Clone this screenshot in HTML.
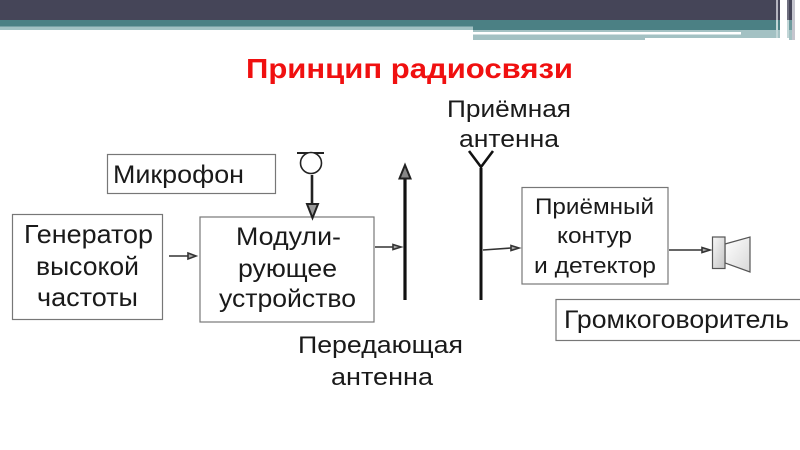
<!DOCTYPE html>
<html><head><meta charset="utf-8"><style>
html,body{margin:0;padding:0;background:#fff;width:800px;height:450px;overflow:hidden}
text{font-family:"Liberation Sans",sans-serif;fill:#1a1a1a;font-size:25px;text-anchor:start}
.d{filter:blur(0.35px)}
</style></head><body>
<svg width="800" height="450" viewBox="0 0 800 450" xmlns="http://www.w3.org/2000/svg">
<defs>
<linearGradient id="g" x1="0" y1="0" x2="1" y2="1"><stop offset="0" stop-color="#f8f8f8"/><stop offset="1" stop-color="#c4c4c4"/></linearGradient>
<linearGradient id="h" x1="0" y1="0" x2="1" y2="1"><stop offset="0" stop-color="#ffffff"/><stop offset="1" stop-color="#d8d8d8"/></linearGradient>
</defs>
<!-- header -->
<rect x="0" y="0" width="776" height="20" fill="#454558"/>
<rect x="0" y="20" width="473" height="6.500" fill="#4b8084"/>
<rect x="0" y="26.500" width="473" height="3.500" fill="#a3c1c3"/>
<rect x="473" y="20" width="303" height="10" fill="#4b8084"/>
<rect x="473" y="30" width="303" height="2" fill="#a3c1c3"/>
<rect x="473" y="32" width="268" height="2.500" fill="#fff"/>
<rect x="741" y="32" width="35" height="6" fill="#a3c1c3"/>
<rect x="473" y="34.500" width="268" height="3.500" fill="#a3c1c3"/>
<rect x="473" y="38" width="172" height="2" fill="#a3c1c3"/>
<!-- right stripes -->
<rect x="776" y="0" width="2" height="38" fill="#b5b5c0"/>
<rect x="776" y="20" width="2" height="18" fill="#c2d6d7"/>
<rect x="778" y="0" width="2" height="20" fill="#454558"/>
<rect x="778" y="20" width="2" height="10" fill="#4b8084"/>
<rect x="778" y="30" width="2" height="8" fill="#a3c1c3"/>
<rect x="787" y="0" width="2" height="20" fill="#6e6e7e"/>
<rect x="787" y="20" width="2" height="18" fill="#c2d6d7"/>
<rect x="789" y="0" width="3" height="20" fill="#454558"/>
<rect x="789" y="20" width="3" height="10" fill="#6d9a9d"/>
<rect x="789" y="30" width="3" height="10" fill="#a3c1c3"/>
<rect x="792" y="0" width="3" height="40" fill="#c5c5ce"/>
<g class="d">
<!-- title -->
<text x="246" y="78" textLength="327" lengthAdjust="spacingAndGlyphs" style="font-size:28px;font-weight:bold;fill:#f01010">Принцип радиосвязи</text>
<!-- boxes -->
<g fill="#fff" stroke="#777" stroke-width="1.200">
<rect x="12.500" y="214.500" width="150" height="105"/>
<rect x="200" y="217" width="174" height="105"/>
<rect x="107.500" y="154.500" width="168" height="39"/>
<rect x="522" y="187.500" width="146" height="96.500"/>
<rect x="556" y="299.500" width="260" height="41"/>
</g>
<!-- box text -->
<text x="24" y="243" textLength="129" lengthAdjust="spacingAndGlyphs" style="font-size:26px">Генератор</text>
<text x="36" y="275" textLength="103" lengthAdjust="spacingAndGlyphs" style="font-size:26px">высокой</text>
<text x="37" y="306" textLength="101" lengthAdjust="spacingAndGlyphs" style="font-size:26px">частоты</text>
<text x="236" y="245" textLength="105" lengthAdjust="spacingAndGlyphs">Модули-</text>
<text x="238" y="277" textLength="99" lengthAdjust="spacingAndGlyphs">рующее</text>
<text x="219" y="307" textLength="137" lengthAdjust="spacingAndGlyphs">устройство</text>
<text x="113" y="183" textLength="131" lengthAdjust="spacingAndGlyphs">Микрофон</text>
<text x="535" y="214" textLength="119" lengthAdjust="spacingAndGlyphs" style="font-size:22.500px">Приёмный</text>
<text x="557" y="243" textLength="75" lengthAdjust="spacingAndGlyphs" style="font-size:22.500px">контур</text>
<text x="534" y="273" textLength="122" lengthAdjust="spacingAndGlyphs" style="font-size:22.500px">и детектор</text>
<text x="564" y="328" textLength="225" lengthAdjust="spacingAndGlyphs">Громкоговоритель</text>
<text x="447" y="117" textLength="124" lengthAdjust="spacingAndGlyphs" style="font-size:24px">Приёмная</text>
<text x="459" y="147" textLength="100" lengthAdjust="spacingAndGlyphs" style="font-size:24px">антенна</text>
<text x="298" y="353" textLength="165" lengthAdjust="spacingAndGlyphs" style="font-size:24px">Передающая</text>
<text x="331" y="385" textLength="102" lengthAdjust="spacingAndGlyphs" style="font-size:24px">антенна</text>
<!-- mic -->
<line x1="297" y1="153" x2="324" y2="153" stroke="#222" stroke-width="2"/>
<circle cx="311" cy="163" r="10.500" fill="#fff" stroke="#222" stroke-width="1.600"/>
<line x1="312" y1="175" x2="312" y2="204" stroke="#222" stroke-width="2.600"/>
<path d="M307 204H318L312.500 218Z" fill="#999" stroke="#222" stroke-width="2"/>
<!-- transmit antenna -->
<line x1="405" y1="178" x2="405" y2="300" stroke="#111" stroke-width="3.200"/>
<path d="M399.500 178.500H410.500L405 165Z" fill="#888" stroke="#222" stroke-width="2"/>
<!-- receive antenna -->
<line x1="481" y1="168" x2="481" y2="300" stroke="#111" stroke-width="3"/>
<path d="M469 151L481 167L493 151" fill="none" stroke="#111" stroke-width="2.600"/>
<!-- small arrows -->
<g stroke="#333" stroke-width="1.600" fill="#aaa">
<line x1="169" y1="256" x2="188" y2="256"/>
<path d="M188 253L196 256L188 259Z"/>
<line x1="375" y1="247" x2="393" y2="247"/>
<path d="M393 244.500L401 247L393 249.500Z"/>
<line x1="483" y1="250" x2="511" y2="248"/>
<path d="M511 245.500L519 248L511 250.500Z"/>
<line x1="669" y1="250" x2="702" y2="250"/>
<path d="M702 247.500L710 250L702 252.500Z"/>
</g>
<!-- speaker -->
<path d="M725 244L750 237V272L725 263Z" fill="url(#h)" stroke="#555" stroke-width="1.200"/>
<rect x="712.500" y="237" width="12.500" height="31.500" fill="url(#g)" stroke="#555" stroke-width="1.200"/>
</g>
</svg>
</body></html>
